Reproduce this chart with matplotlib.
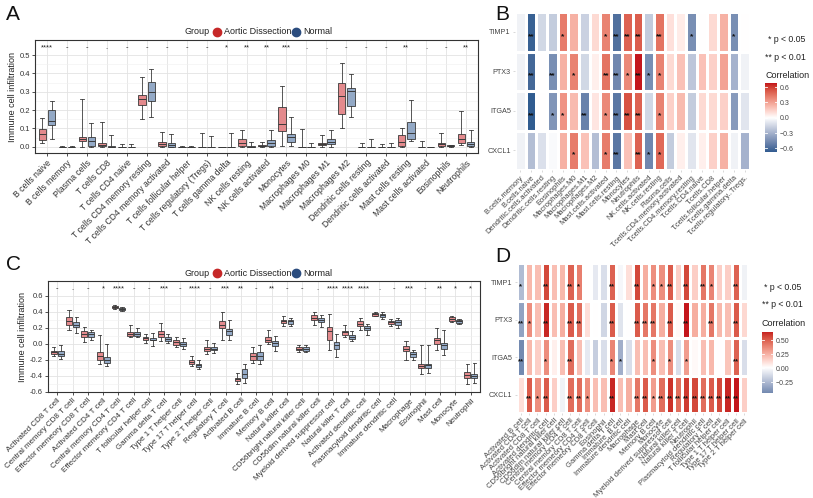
import numpy as np
import matplotlib
matplotlib.use("Agg")
import matplotlib.pyplot as plt
import matplotlib.colors as mcolors
from matplotlib.lines import Line2D

plt.rcParams['font.family'] = ['Liberation Sans', 'DejaVu Sans']

# ---------------- DATA ----------------
A_cats = ["B cells naive", "B cells memory", "Plasma cells", "T cells CD8", "T cells CD4 naive",
          "T cells CD4 memory resting", "T cells CD4 memory activated", "T cells follicular helper",
          "T cells regulatory (Tregs)", "T cells gamma delta", "NK cells resting", "NK cells activated",
          "Monocytes", "Macrophages M0", "Macrophages M1", "Macrophages M2", "Dendritic cells resting",
          "Dendritic cells activated", "Mast cells resting", "Mast cells activated", "Eosinophils", "Neutrophils"]
A_sig = ["****", "-", "-", ".", "-", "-", "-", "-", "-", "*", "**", "**", "***", ".", ".", "-", "-", "-",
         "**", ".", "-", "**"]
A_ad_lo = [0.018, 0, 0, 0, 0, 0.15, 0, 0, 0, 0, 0, 0, 0.004, 0, 0, 0.105, 0, 0, 0, 0, 0, 0.009]
A_ad_q1 = [0.036, 0, 0.03, 0.004, 0, 0.23, 0.004, 0, 0, 0, 0.004, 0.002, 0.087, 0, 0.009, 0.176, 0, 0, 0.004, 0, 0.004, 0.022]
A_ad_med = [0.067, 0, 0.042, 0.01, 0, 0.262, 0.015, 0, 0, 0, 0.02, 0.004, 0.124, 0, 0.015, 0.276, 0, 0, 0.027, 0, 0.013, 0.04]
A_ad_q3 = [0.095, 0.001, 0.055, 0.018, 0.001, 0.282, 0.027, 0.001, 0.001, 0.001, 0.045, 0.007, 0.218, 0.001, 0.022, 0.345, 0.001, 0.001, 0.064, 0.001, 0.022, 0.069]
A_ad_hi = [0.155, 0.002, 0.258, 0.137, 0.015, 0.378, 0.082, 0.002, 0.073, 0.001, 0.093, 0.027, 0.33, 0.098, 0.064, 0.455, 0.022, 0.013, 0.104, 0.03, 0.076, 0.196]
A_n_lo = [0.045, 0, 0, 0, 0, 0.163, 0, 0, 0, 0, 0, 0, 0.004, 0, 0, 0.164, 0, 0, 0.031, 0, 0, 0]
A_n_q1 = [0.118, 0, 0.005, 0, 0, 0.25, 0, 0, 0, 0, 0, 0.004, 0.027, 0, 0.013, 0.222, 0, 0, 0.04, 0, 0.002, 0.004]
A_n_med = [0.142, 0, 0.033, 0, 0, 0.298, 0.008, 0, 0, 0, 0, 0.018, 0.051, 0, 0.027, 0.305, 0, 0, 0.073, 0, 0.004, 0.015]
A_n_q3 = [0.2, 0.001, 0.055, 0.002, 0.001, 0.353, 0.018, 0.001, 0.001, 0.001, 0.003, 0.036, 0.067, 0.001, 0.045, 0.32, 0.001, 0.001, 0.133, 0.001, 0.007, 0.024]
A_n_hi = [0.25, 0.002, 0.13, 0.063, 0.015, 0.425, 0.067, 0.002, 0.06, 0.077, 0.027, 0.093, 0.16, 0.022, 0.09, 0.395, 0.045, 0.022, 0.255, 0.001, 0.009, 0.09]

C_cats = ["Activated CD8 T cell", "Central memory CD8 T cell", "Effector memeory CD8 T cell",
          "Activated CD4 T cell", "Central memory CD4 T cell", "Effector memeory CD4 T cell",
          "T follicular helper cell", "Gamma delta T cell", "Type 1 T helper cell", "Type 17 T helper cell",
          "Type 2 T helper cell", "Regulatory T cell", "Activated B cell", "Immature B cell", "Memory B cell",
          "Natural killer cell", "CD56bright natural killer cell", "CD56dim natural killer cell",
          "Myeloid derived suppressor cell", "Natural killer T cell", "Activated dendritic cell",
          "Plasmacytoid dendritic cell", "Immature dendritic cell", "Macrophage", "Eosinophil", "Mast cell",
          "Monocyte", "Neutrophil"]
C_sig = ["-", ".", "-", "*", "****", "-", "-", "***", "-", "****", "-", "***", "**", "-", "**", "-", "-", ".",
         "****", "****", "****", ".", "-", "***", "-", "**", "*", "*"]
C_ad_lo = [-0.157, 0.165, 0.017, -0.26, 0.43, 0.083, 0.008, 0.029, -0.041, -0.281, -0.124, 0.05, -0.5, -0.24, -0.004, 0.215, -0.1, 0.236, -0.083, 0.083, 0.174, 0.34, 0.223, -0.207, -0.385, -0.074, 0.265, -0.509]
C_ad_q1 = [-0.128, 0.228, 0.083, -0.211, 0.443, 0.1, 0.041, 0.083, -0.012, -0.252, -0.087, 0.194, -0.468, -0.199, 0.017, 0.257, -0.074, 0.29, 0.05, 0.112, 0.223, 0.348, 0.248, -0.087, -0.31, 0.0, 0.277, -0.426]
C_ad_med = [-0.107, 0.285, 0.12, -0.149, 0.459, 0.12, 0.07, 0.124, 0.017, -0.232, -0.066, 0.236, -0.447, -0.157, 0.05, 0.277, -0.062, 0.318, 0.153, 0.14, 0.248, 0.364, 0.265, -0.062, -0.281, 0.041, 0.306, -0.393]
C_ad_q3 = [-0.095, 0.33, 0.153, -0.108, 0.472, 0.14, 0.083, 0.153, 0.041, -0.207, -0.041, 0.277, -0.426, -0.116, 0.083, 0.298, -0.046, 0.352, 0.207, 0.161, 0.277, 0.38, 0.285, -0.033, -0.26, 0.07, 0.331, -0.356]
C_ad_hi = [-0.045, 0.422, 0.207, 0.112, 0.488, 0.232, 0.124, 0.257, 0.083, -0.149, 0.05, 0.4, -0.372, -0.041, 0.174, 0.34, -0.02, 0.397, 0.372, 0.228, 0.318, 0.4, 0.31, 0.029, -0.012, 0.194, 0.348, -0.252]
C_n_lo = [-0.19, 0.13, 0.05, -0.28, 0.41, 0.079, -0.033, 0.008, -0.066, -0.314, -0.116, 0.041, -0.488, -0.26, -0.095, 0.223, -0.108, 0.207, -0.165, 0.029, 0.103, 0.306, 0.194, -0.207, -0.364, -0.137, 0.248, -0.488]
C_n_q1 = [-0.157, 0.207, 0.083, -0.24, 0.422, 0.09, 0.041, 0.033, -0.033, -0.29, -0.083, 0.112, -0.426, -0.199, -0.033, 0.248, -0.087, 0.265, -0.062, 0.058, 0.165, 0.331, 0.236, -0.165, -0.302, -0.062, 0.257, -0.434]
C_n_med = [-0.124, 0.236, 0.12, -0.199, 0.434, 0.124, 0.05, 0.062, -0.004, -0.273, -0.062, 0.153, -0.377, -0.149, 0.004, 0.277, -0.062, 0.29, -0.012, 0.083, 0.19, 0.352, 0.265, -0.132, -0.273, -0.021, 0.277, -0.405]
C_n_q3 = [-0.087, 0.265, 0.145, -0.17, 0.45, 0.14, 0.066, 0.083, 0.017, -0.252, -0.04, 0.182, -0.323, -0.108, 0.029, 0.298, -0.041, 0.318, 0.021, 0.112, 0.215, 0.368, 0.29, -0.108, -0.252, 0.008, 0.298, -0.385]
C_n_hi = [-0.017, 0.33, 0.174, 0.0, 0.463, 0.195, 0.13, 0.12, 0.07, -0.207, 0.008, 0.298, -0.26, -0.012, 0.091, 0.32, -0.02, 0.36, 0.124, 0.153, 0.248, 0.393, 0.32, -0.074, -0.012, 0.165, 0.306, -0.24]

genes = ["TIMP1", "PTX3", "ITGA5", "CXCL1"]

B_cols = ["B.cells.memory", "B.cells.naive", "Dendritic.cells.activated", "Dendritic.cells.resting",
          "Eosinophils", "Macrophages.M0", "Macrophages.M1", "Macrophages.M2", "Mast.cells.activated",
          "Mast.cells.resting", "Monocytes", "Neutrophils", "NK.cells.activated", "NK.cells.resting",
          "Plasma.cells", "T.cells.CD4.memory.activated", "T.cells.CD4.memory.resting", "T.cells.CD4.naive",
          "T.cells.CD8", "T.cells.follicular.helper", "T.cells.gamma.delta", "T.cells.regulatory..Tregs."]
B_TIMP1 = [-0.05, -0.65, -0.15, -0.2, 0.42, 0.25, -0.18, 0.12, 0.4, -0.58, 0.5, 0.52, -0.2, 0.45, 0.1, 0.06, -0.45, 0.0, 0.12, 0.25, -0.45, 0.0]
B_PTX3 = [-0.05, -0.62, 0.0, -0.45, 0.25, 0.4, -0.15, 0.05, 0.45, -0.48, 0.38, 0.68, -0.45, 0.4, 0.12, 0.2, -0.22, 0.2, 0.15, 0.3, -0.3, -0.05]
B_ITGA5 = [-0.05, -0.67, 0.0, -0.42, 0.35, 0.22, -0.5, 0.08, 0.38, -0.55, 0.55, 0.5, -0.15, 0.4, 0.15, 0.22, -0.2, 0.12, 0.12, 0.15, -0.4, -0.1]
B_CXCL1 = [-0.05, -0.25, -0.12, -0.02, 0.25, 0.42, 0.2, -0.25, 0.42, -0.55, 0.2, 0.5, -0.48, 0.48, -0.2, 0.05, -0.1, 0.05, 0.15, 0.25, -0.05, -0.3]
B_TIMP1_sig = ["", "**", "", "", "*", "", "", "", "*", "**", "**", "**", "", "**", "", "", "*", "", "", "", "*", ""]
B_PTX3_sig = ["", "**", "", "**", "", "*", "", "", "**", "**", "*", "**", "*", "*", "", "", "", "", "", "", "", ""]
B_ITGA5_sig = ["", "**", "", "*", "*", "", "**", "", "*", "**", "**", "**", "", "*", "", "", "", "", "", "", "", ""]
B_CXCL1_sig = ["", "", "", "", "", "*", "", "", "*", "**", "", "**", "*", "*", "", "", "", "", "", "", "", ""]

D_cols = ["Activated B cell", "Activated CD4 T cell", "Activated CD8 T cell", "Activated dendritic cell",
          "CD56bright natural killer cell", "CD56dim natural killer cell", "Central memory CD4 T cell",
          "Central memory CD8 T cell", "Effector memeory CD4 T cell", "Effector memeory CD8 T cell",
          "Eosinophil", "Gamma delta T cell", "Immature  B cell", "Immature dendritic cell", "Macrophage",
          "Mast cell", "Memory B cell", "Monocyte", "Myeloid derived suppressor cell", "Natural killer cell",
          "Natural killer T cell", "Neutrophil", "Plasmacytoid dendritic cell", "Regulatory T cell",
          "T follicular helper cell", "Type 1 T helper cell", "Type 17 T helper cell", "Type 2 T helper cell"]
D_TIMP1 = [-0.25, 0.22, 0.2, 0.55, 0.2, 0.22, 0.48, 0.4, 0.0, -0.08, -0.12, 0.48, -0.03, 0.1, 0.55, 0.25, 0.35, 0.35, 0.5, 0.15, 0.55, 0.15, 0.42, 0.38, 0.15, 0.15, 0.48, -0.05]
D_PTX3 = [-0.35, 0.35, 0.2, 0.62, 0.2, 0.25, 0.5, 0.45, 0.1, 0.0, -0.15, 0.5, -0.1, 0.0, 0.5, 0.42, 0.42, 0.25, 0.5, 0.02, 0.65, 0.25, 0.25, 0.42, 0.22, 0.2, 0.5, 0.12]
D_ITGA5 = [-0.45, 0.22, 0.15, 0.35, 0.05, 0.2, 0.45, 0.2, -0.08, -0.18, -0.12, 0.38, -0.3, -0.12, 0.2, 0.2, 0.35, 0.2, 0.35, -0.12, 0.3, 0.02, 0.2, 0.22, 0.0, 0.18, 0.48, -0.12]
D_CXCL1 = [0.1, 0.5, 0.35, 0.5, 0.15, -0.05, 0.45, 0.45, 0.35, 0.2, 0.2, 0.62, 0.2, 0.25, 0.42, 0.5, 0.3, 0.45, 0.6, 0.45, 0.58, 0.55, 0.45, 0.5, 0.55, 0.62, 0.65, 0.15]
D_TIMP1_sig = ["*", "", "", "**", "", "", "**", "*", "", "", "", "**", "", "", "**", "", "*", "*", "**", "", "**", "", "**", "*", "", "", "**", ""]
D_PTX3_sig = ["**", "*", "", "**", "", "", "**", "**", "", "", "", "**", "", "", "**", "**", "**", "", "**", "", "**", "", "", "**", "", "", "**", ""]
D_ITGA5_sig = ["**", "", "", "*", "", "", "**", "", "", "", "", "*", "*", "", "", "", "*", "", "*", "", "*", "", "", "", "", "", "**", ""]
D_CXCL1_sig = ["", "**", "*", "**", "", "", "**", "**", "*", "", "", "**", "", "", "**", "**", "*", "**", "**", "**", "**", "**", "**", "**", "**", "**", "**", ""]

# ---------------- helpers ----------------
W, H = 813, 498
fig = plt.figure(figsize=(W / 100, H / 100), dpi=100)


def rect(l, t, r, b):
    return [l / W, 1 - b / H, (r - l) / W, (b - t) / H]


def fx(px):
    return px / W


def fy(py):
    return 1 - py / H


_M = np.array([[0.4124564, 0.3575761, 0.1804375], [0.2126729, 0.7151522, 0.0721750],
               [0.0193339, 0.1191920, 0.9503041]])
_WP = np.array([0.95047, 1.0, 1.08883])


def _lab(c):
    rgb = np.array(mcolors.to_rgb(c))
    lin = np.where(rgb <= 0.04045, rgb / 12.92, ((rgb + 0.055) / 1.055) ** 2.4)
    xyz = _M @ lin / _WP
    d = 6 / 29
    f = np.where(xyz > d ** 3, np.cbrt(xyz), xyz / (3 * d * d) + 4 / 29)
    return np.array([116 * f[1] - 16, 500 * (f[0] - f[1]), 200 * (f[1] - f[2])])


def _rgb(lab):
    L, a, b = lab
    fyv = (L + 16) / 116
    f = np.array([fyv + a / 500, fyv, fyv - b / 200])
    d = 6 / 29
    xyz = np.where(f > d, f ** 3, 3 * d * d * (f - 4 / 29)) * _WP
    lin = np.clip(np.linalg.inv(_M) @ xyz, 0, 1)
    rgb = np.where(lin <= 0.0031308, 12.92 * lin, 1.055 * lin ** (1 / 2.4) - 0.055)
    return np.clip(rgb, 0, 1)


def div_cmap(low, mid, high, n=256):
    l0, l1, l2 = _lab(low), _lab(mid), _lab(high)
    cols = []
    for t in np.linspace(0, 1, n):
        if t < 0.5:
            lab = l0 + (l1 - l0) * (t / 0.5)
        else:
            lab = l1 + (l2 - l1) * ((t - 0.5) / 0.5)
        cols.append(_rgb(lab))
    return mcolors.ListedColormap(cols)


CMAP = div_cmap("#2E5B8F", "#FFFFFF", "#C4161C")
EDGE = "#3a3a3a"
AD_FILL = "#E38A8D"
N_FILL = "#93A9C6"
AD_DOT = "#C62828"
N_DOT = "#2B4C7E"


def boxpanel(ax, cats, sig, ad, nn, ylim, yticks, ylabfmt, sig_y, xfs):
    n = len(cats)
    for vals, off, col in ((ad, -0.23, AD_FILL), (nn, 0.23, N_FILL)):
        lo, q1, med, q3, hi = vals
        stats = [dict(med=med[i], q1=q1[i], q3=q3[i], whislo=lo[i], whishi=hi[i]) for i in range(n)]
        ax.bxp(stats, positions=np.arange(n) + off, widths=0.38, patch_artist=True, showfliers=False,
               capwidths=0.2, manage_ticks=False,
               boxprops=dict(facecolor=col, edgecolor=EDGE, linewidth=0.6),
               medianprops=dict(color=EDGE, linewidth=0.7),
               whiskerprops=dict(color=EDGE, linewidth=0.6),
               capprops=dict(color=EDGE, linewidth=0.6), zorder=3)
    for i, s in enumerate(sig):
        ax.text(i, sig_y, s, ha='center', va='center', fontsize=5.5, color="#222222")
    ax.set_xlim(-0.6, n - 0.4)
    ax.set_ylim(*ylim)
    ax.set_yticks(yticks)
    ax.set_yticklabels([ylabfmt(v) for v in yticks], fontsize=5.5, color="#333333")
    ax.set_yticks([(a + b) / 2 for a, b in zip(yticks[:-1], yticks[1:])], minor=True)
    ax.set_xticks(np.arange(n))
    ax.set_xticklabels(cats, rotation=45, ha='right', rotation_mode='anchor', fontsize=xfs, color="#333333")
    ax.grid(True, which='major', color="#E3E3E3", linewidth=0.6, zorder=0)
    ax.grid(True, which='minor', axis='y', color="#F0F0F0", linewidth=0.4, zorder=0)
    ax.set_axisbelow(True)
    ax.tick_params(axis='both', which='major', direction='out', length=2.2, width=0.6, color="#333333", pad=1.5)
    ax.tick_params(axis='y', which='minor', length=0)
    for sp in ax.spines.values():
        sp.set_color("#333333")
        sp.set_linewidth(0.8)
    ax.set_ylabel("Immune cell infiltration", fontsize=6.5, labelpad=2, color="#222222")


def legend_group(y):
    fig.text(fx(184), fy(y), "Group", fontsize=6.5, va='center', ha='left', color="#222222")
    fig.add_artist(Line2D([fx(217)], [fy(y)], marker='o', markersize=6, color=AD_DOT, linestyle='none',
                          transform=fig.transFigure))
    fig.text(fx(224), fy(y), "Aortic Dissection", fontsize=6.5, va='center', ha='left', color="#222222")
    fig.add_artist(Line2D([fx(296)], [fy(y)], marker='o', markersize=6, color=N_DOT, linestyle='none',
                          transform=fig.transFigure))
    fig.text(fx(303), fy(y), "Normal", fontsize=6.5, va='center', ha='left', color="#222222")


def heatpanel(ax, cax, cols, rows, sigs, cticks, ctlabels, xfs, sfs):
    data = np.array(rows)
    m = np.abs(data).max()
    norm = mcolors.Normalize(vmin=-m, vmax=m)
    nr, nc = data.shape
    ax.pcolormesh(np.arange(nc + 1), np.arange(nr + 1), data, cmap=CMAP, norm=norm,
                  edgecolors='white', linewidth=0.9)
    for k in range(1, nr):
        ax.axhline(k, color='white', linewidth=2.2)
    for r in range(nr):
        for c in range(nc):
            if sigs[r][c]:
                ax.text(c + 0.5, r + 0.62, sigs[r][c], ha='center', va='center', fontsize=sfs,
                        color="#111111", fontweight='bold')
    ax.set_xlim(0, nc)
    ax.set_ylim(nr, 0)
    ax.set_yticks(np.arange(nr) + 0.5)
    ax.set_yticklabels(genes, fontsize=5.2, color="#444444")
    ax.set_xticks(np.arange(nc) + 0.5)
    ax.set_xticklabels(cols, rotation=45, ha='right', rotation_mode='anchor', fontsize=xfs, color="#444444")
    ax.tick_params(axis='both', length=1.5, width=0.4, color="#BBBBBB", pad=1.5)
    for sp in ax.spines.values():
        sp.set_visible(False)
    dmin, dmax = data.min(), data.max()
    grad = np.linspace(dmin, dmax, 256)[:, None]
    cax.imshow(grad, cmap=CMAP, norm=norm, aspect='auto', origin='lower', extent=[0, 1, dmin, dmax])
    cax.set_xticks([])
    cax.yaxis.tick_right()
    cax.set_yticks(cticks)
    cax.set_yticklabels(ctlabels, fontsize=5, color="#444444")
    cax.tick_params(axis='y', length=0, pad=2)
    for t in cticks:
        cax.plot([0, 0.2], [t, t], color='white', lw=0.6)
        cax.plot([0.8, 1], [t, t], color='white', lw=0.6)
    cax.set_xlim(0, 1)
    cax.set_ylim(dmin, dmax)
    for sp in cax.spines.values():
        sp.set_visible(False)


# ---------------- Panel A ----------------
axA = fig.add_axes(rect(35, 40, 478, 153))
boxpanel(axA, A_cats, A_sig,
         (A_ad_lo, A_ad_q1, A_ad_med, A_ad_q3, A_ad_hi),
         (A_n_lo, A_n_q1, A_n_med, A_n_q3, A_n_hi),
         (-0.034, 0.582), [0.0, 0.1, 0.2, 0.3, 0.4, 0.5], lambda v: f"{v:.1f}", 0.54, 6.2)
legend_group(32)

# ---------------- Panel C ----------------
axC = fig.add_axes(rect(48, 281, 480, 392))
boxpanel(axC, C_cats, C_sig,
         (C_ad_lo, C_ad_q1, C_ad_med, C_ad_q3, C_ad_hi),
         (C_n_lo, C_n_q1, C_n_med, C_n_q3, C_n_hi),
         (-0.605, 0.782), [-0.6, -0.4, -0.2, 0.0, 0.2, 0.4, 0.6], lambda v: f"{v:.1f}", 0.683, 5.8)
legend_group(273)

# ---------------- Panel B ----------------
axB = fig.add_axes(rect(515, 12, 750, 170))
caxB = fig.add_axes(rect(765, 83, 777, 152))
heatpanel(axB, caxB, B_cols, [B_TIMP1, B_PTX3, B_ITGA5, B_CXCL1],
          [B_TIMP1_sig, B_PTX3_sig, B_ITGA5_sig, B_CXCL1_sig],
          [-0.6, -0.3, 0.0, 0.3, 0.6], ["\u22120.6", "\u22120.3", "0.0", "0.3", "0.6"], 5.4, 6.0)
fig.text(fx(768), fy(39), "* p < 0.05", fontsize=6.3, va='center', ha='left', color="#222222")
fig.text(fx(765), fy(57), "** p < 0.01", fontsize=6.3, va='center', ha='left', color="#222222")
fig.text(fx(765), fy(75), "Correlation", fontsize=6.5, va='center', ha='left', color="#222222")

# ---------------- Panel D ----------------
axD = fig.add_axes(rect(516.7, 263.3, 748.3, 413.3))
caxD = fig.add_axes(rect(762, 331.7, 773, 393.3))
heatpanel(axD, caxD, D_cols, [D_TIMP1, D_PTX3, D_ITGA5, D_CXCL1],
          [D_TIMP1_sig, D_PTX3_sig, D_ITGA5_sig, D_CXCL1_sig],
          [-0.25, 0.0, 0.25, 0.5], ["\u22120.25", "0.00", "0.25", "0.50"], 5.5, 5.5)
fig.text(fx(764), fy(287), "* p < 0.05", fontsize=6.3, va='center', ha='left', color="#222222")
fig.text(fx(762), fy(304), "** p < 0.01", fontsize=6.3, va='center', ha='left', color="#222222")
fig.text(fx(761), fy(323), "Correlation", fontsize=6.5, va='center', ha='left', color="#222222")

# ---------------- Panel letters ----------------
for lab, x, y in (("A", 6, 15), ("B", 495, 15), ("C", 6, 265), ("D", 495, 257)):
    fig.text(fx(x), fy(y), lab, fontsize=15, va='center', ha='left', color="#111111")

fig.savefig("out.png", dpi=100)
